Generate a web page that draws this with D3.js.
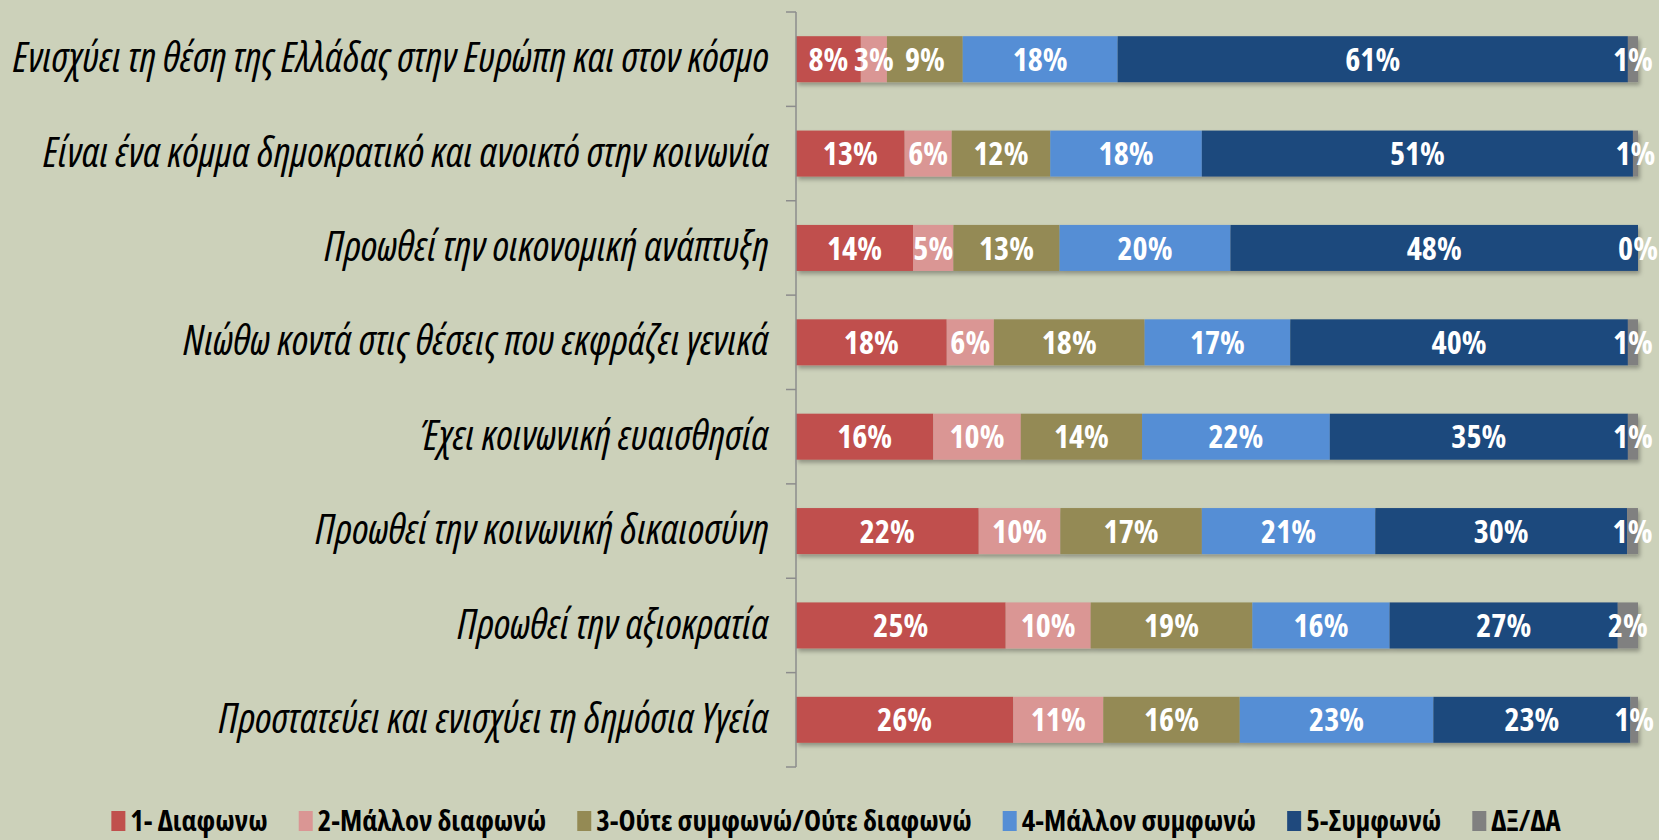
<!DOCTYPE html>
<html>
<head>
<meta charset="utf-8">
<script src="https://cdn.jsdelivr.net/npm/d3@7"></script>
<style>
  html, body { margin: 0; padding: 0; background: #ccd1ba; }
  svg { display: block; }
</style>
</head>
<body>
<script>
// categories, top to bottom
var categories = [
  "Ενισχύει τη θέση της Ελλάδας στην Ευρώπη και στον κόσμο",
  "Είναι ένα κόμμα δημοκρατικό και ανοικτό στην κοινωνία",
  "Προωθεί την οικονομική ανάπτυξη",
  "Νιώθω κοντά στις θέσεις που εκφράζει γενικά",
  "Έχει κοινωνική ευαισθησία",
  "Προωθεί την κοινωνική δικαιοσύνη",
  "Προωθεί την αξιοκρατία",
  "Προστατεύει και ενισχύει τη δημόσια Υγεία"
];

// series names (legend order)
var seriesNames = ["1- Διαφωνω", "2-Μάλλον διαφωνώ", "3-Ούτε συμφωνώ/Ούτε διαφωνώ",
                   "4-Μάλλον συμφωνώ", "5-Συμφωνώ", "ΔΞ/ΔΑ"];
var seriesColors = ["#c0504d", "#da9694", "#948a54", "#558ed5", "#1f497d", "#808080"];

// values per series, one per category (percent)
var diafono        = [7.7, 12.9, 13.9, 17.9, 16.3, 21.7, 24.9, 25.8];
var mallonDiafono  = [3.1, 5.6, 4.8, 5.6, 10.4, 9.7, 10.1, 10.7];
var oute           = [9.0, 11.7, 12.6, 17.9, 14.4, 16.8, 19.2, 16.2];
var mallonSymfono  = [18.4, 18.0, 20.3, 17.3, 22.3, 20.6, 16.3, 23.0];
var symfono        = [60.6, 51.2, 48.4, 40.1, 35.4, 29.9, 27.1, 23.4];
var dxda           = [1.2, 0.6, 0.0, 1.2, 1.2, 1.3, 2.4, 0.9];

var seriesValues = [diafono, mallonDiafono, oute, mallonSymfono, symfono, dxda];

var data = categories.map(function(c, i) {
  var row = {category: c};
  seriesNames.forEach(function(s, j) { row[s] = seriesValues[j][i]; });
  return row;
});

var W = 1659, H = 840;
var margin = {top: 12, right: 21, bottom: 73, left: 796};
var width = W - margin.left - margin.right,
    height = H - margin.top - margin.bottom;

var svg = d3.select("body").append("svg")
    .attr("width", W)
    .attr("height", H);

svg.append("rect").attr("width", W).attr("height", H).attr("fill", "#ccd1ba");

// pick a narrow font (the original uses Calibri): prefer a condensed width if the font has one
function measure(family, stretch, weight, style, txt) {
  var t = svg.append("text")
      .style("font-family", family).style("font-stretch", stretch)
      .style("font-weight", weight).style("font-style", style)
      .style("font-size", "30px").text(txt);
  var w = t.node().getComputedTextLength();
  t.remove();
  return w;
}
var font = {family: "Roboto", stretch: "normal"};
["'Open Sans'", "'Noto Sans'", "Roboto"].some(function(f) {
  var n = measure(f, "100%", "normal", "normal", categories[0]);
  var c = measure(f, "75%", "normal", "normal", categories[0]);
  if (c < n * 0.92) { font = {family: f, stretch: "80%"}; return true; }
  return false;
});
var FAMILY = font.family + ", 'DejaVu Sans Condensed', sans-serif";

// font sizes fitted to the widths of the original texts
var labelSize = 30 * 756 / measure(FAMILY, font.stretch, "normal", "italic", categories[0]);
var valueSize = 30 * 55 / measure(FAMILY, font.stretch, "bold", "normal", "18%");

var defs = svg.append("defs");
defs.append("filter")
    .attr("id", "shadow")
    .attr("x", "-5%").attr("y", "-20%").attr("width", "110%").attr("height", "160%")
  .append("feDropShadow")
    .attr("dx", 2).attr("dy", 3)
    .attr("stdDeviation", 2)
    .attr("flood-color", "#000")
    .attr("flood-opacity", 0.3);

var g = svg.append("g")
    .attr("transform", "translate(" + margin.left + "," + margin.top + ")");

var x = d3.scaleLinear().domain([0, 100]).range([0, width]);
var y = d3.scaleBand().domain(categories).range([0, height])
    .paddingInner(0.5126).paddingOuter(0.2563);

var stack = d3.stack().keys(seriesNames);
var series = stack(data);

// bars
var bars = g.append("g").attr("filter", "url(#shadow)");
bars.selectAll("g")
  .data(series)
  .enter().append("g")
    .attr("fill", function(d, i) { return seriesColors[i]; })
  .selectAll("rect")
  .data(function(d) { return d; })
  .enter().append("rect")
    .attr("x", function(d) { return x(d[0]); })
    .attr("y", function(d) { return y(d.data.category); })
    .attr("width", function(d) { return x(d[1]) - x(d[0]); })
    .attr("height", y.bandwidth());

// data labels
var labels = g.append("g");
series.forEach(function(s) {
  labels.selectAll(null)
    .data(s)
    .enter().append("text")
      .attr("x", function(d) { return (x(d[0]) + x(d[1])) / 2; })
      .attr("y", function(d) { return y(d.data.category) + y.bandwidth() / 2; })
      .attr("dy", "0.36em")
      .attr("text-anchor", "middle")
      .attr("fill", "#fff")
      .style("font-family", FAMILY)
      .style("font-stretch", font.stretch)
      .style("font-weight", "bold")
      .style("font-size", valueSize + "px")
      .text(function(d) { return Math.round(d[1] - d[0]) + "%"; });
});

// category axis (labels)
var yAxis = g.append("g")
    .call(d3.axisLeft(y).tickSize(0).tickPadding(27));
yAxis.select(".domain").remove();
yAxis.selectAll("text")
    .attr("fill", "#000")
    .style("font-family", FAMILY)
    .style("font-stretch", font.stretch)
    .style("font-style", "italic")
    .style("font-size", labelSize + "px");

// axis line and tick marks at category boundaries
var axisLine = g.append("g").attr("stroke", "#8c8c8c").attr("stroke-width", 1.5);
axisLine.append("line")
    .attr("x1", 0).attr("x2", 0)
    .attr("y1", y.range()[0]).attr("y2", y.range()[1]);
var bounds = categories.map(function(c) { return y(c) - y.step() * y.paddingInner() / 2; });
bounds.push(y.range()[1]);
axisLine.selectAll(null)
  .data(bounds)
  .enter().append("line")
    .attr("x1", -10).attr("x2", 0)
    .attr("y1", function(d) { return d; })
    .attr("y2", function(d) { return d; });

// legend
var legend = svg.append("g");
var legendY = 821;
var items = legend.selectAll("g")
  .data(seriesNames)
  .enter().append("g");
items.append("rect")
    .attr("width", 14).attr("height", 20)
    .attr("y", legendY - 10)
    .attr("fill", function(d, i) { return seriesColors[i]; });
var legendText = items.append("text")
    .attr("x", 19)
    .attr("y", legendY)
    .attr("dy", "0.36em")
    .attr("fill", "#000")
    .style("font-family", FAMILY)
    .style("font-stretch", font.stretch)
    .style("font-weight", "bold")
    .style("font-size", "30px")
    .text(function(d) { return d; });

// fit legend font so the whole row spans like the original
var gap = 31, textSum = 0;
legendText.each(function() { textSum += this.getComputedTextLength(); });
var legendSize = 30 * (1450 - seriesNames.length * 19 - (seriesNames.length - 1) * gap) / textSum;
legendText.style("font-size", legendSize + "px");

var offsets = [], total = 0;
items.each(function() {
  var w = 19 + this.querySelector("text").getComputedTextLength();
  offsets.push(total);
  total += w + gap;
});
total -= gap;
var startX = 836 - total / 2;
items.attr("transform", function(d, i) { return "translate(" + (startX + offsets[i]) + ",0)"; });
</script>
</body>
</html>
